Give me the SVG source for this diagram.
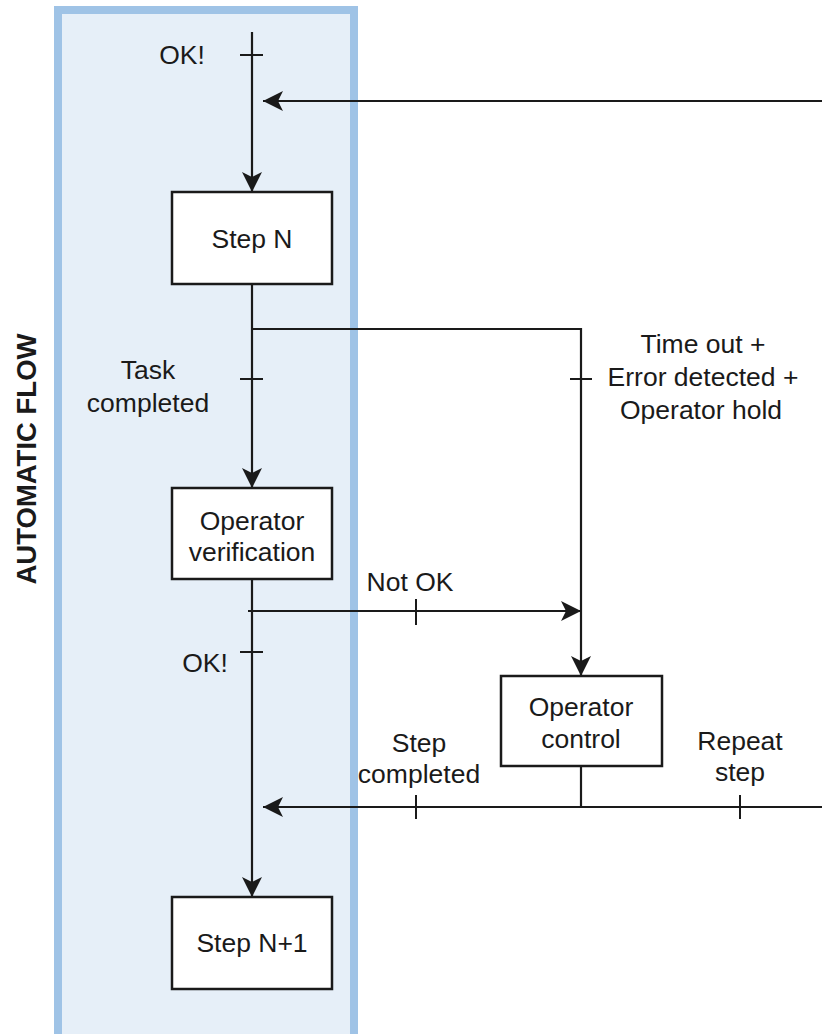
<svg xmlns="http://www.w3.org/2000/svg" width="822" height="1034" viewBox="0 0 822 1034">
<style>
.lane{fill:#e6eff8;stroke:#9fc3e6;stroke-width:8}
.box{fill:#ffffff;stroke:#1a1a1a;stroke-width:2.5}
.ln{fill:none;stroke:#1a1a1a;stroke-width:2.2}
.tk{fill:none;stroke:#1a1a1a;stroke-width:2}
text{font-family:"Liberation Sans",Arial,sans-serif;font-size:26.5px;fill:#1a1a1a;text-anchor:middle}
.title{font-weight:bold;font-size:27.5px}
</style>
<defs>
<marker id="arr" markerUnits="userSpaceOnUse" viewBox="-21 -11 22 22" refX="0" refY="0" markerWidth="22" markerHeight="22" orient="auto">
<path d="M-20,-10 L0,0 L-20,10 L-15,0 Z" fill="#1a1a1a"/>
</marker>
</defs>
<g id="lane">
<rect class="lane" x="58" y="10" width="296" height="1034"/>
<text class="title" transform="translate(36,459) rotate(-90)">AUTOMATIC FLOW</text>
</g>
<g id="connectors">
<line class="ln" x1="252" y1="32" x2="252" y2="192" marker-end="url(#arr)"/>
<line class="ln" x1="822" y1="101" x2="263" y2="101" marker-end="url(#arr)"/>
<line class="ln" x1="252" y1="284" x2="252" y2="488" marker-end="url(#arr)"/>
<polyline class="ln" points="252,329 581,329 581,676" marker-end="url(#arr)"/>
<line class="ln" x1="248" y1="611" x2="581" y2="611" marker-end="url(#arr)"/>
<line class="ln" x1="252" y1="579" x2="252" y2="897" marker-end="url(#arr)"/>
<line class="ln" x1="581" y1="766" x2="581" y2="807"/>
<line class="ln" x1="822" y1="807" x2="263" y2="807" marker-end="url(#arr)"/>
<line class="tk" x1="240" y1="55" x2="263" y2="55"/>
<line class="tk" x1="240" y1="379" x2="263" y2="379"/>
<line class="tk" x1="570" y1="379" x2="592" y2="379"/>
<line class="tk" x1="416" y1="599" x2="416" y2="625"/>
<line class="tk" x1="240" y1="652" x2="263" y2="652"/>
<line class="tk" x1="416" y1="795" x2="416" y2="819"/>
<line class="tk" x1="740" y1="795" x2="740" y2="819"/>
</g>
<g id="labels">
<text x="182" y="64">OK!</text>
<text x="148" y="379">Task</text>
<text x="148" y="412">completed</text>
<text x="703" y="353">Time out +</text>
<text x="703" y="386">Error detected +</text>
<text x="701" y="419">Operator hold</text>
<text x="410" y="591">Not OK</text>
<text x="205" y="672">OK!</text>
<text x="419" y="752">Step</text>
<text x="419" y="783">completed</text>
<text x="740" y="750">Repeat</text>
<text x="740" y="781">step</text>
</g>
<g id="step-n">
<rect class="box" x="172" y="192" width="160" height="92"/>
<text x="252" y="248">Step N</text>
</g>
<g id="operator-verification">
<rect class="box" x="172" y="488" width="160" height="91"/>
<text x="252" y="530">Operator</text>
<text x="252" y="561">verification</text>
</g>
<g id="operator-control">
<rect class="box" x="501" y="676" width="161" height="90"/>
<text x="581" y="716">Operator</text>
<text x="581" y="748">control</text>
</g>
<g id="step-n1">
<rect class="box" x="172" y="897" width="160" height="92"/>
<text x="252" y="952">Step N+1</text>
</g>
</svg>
